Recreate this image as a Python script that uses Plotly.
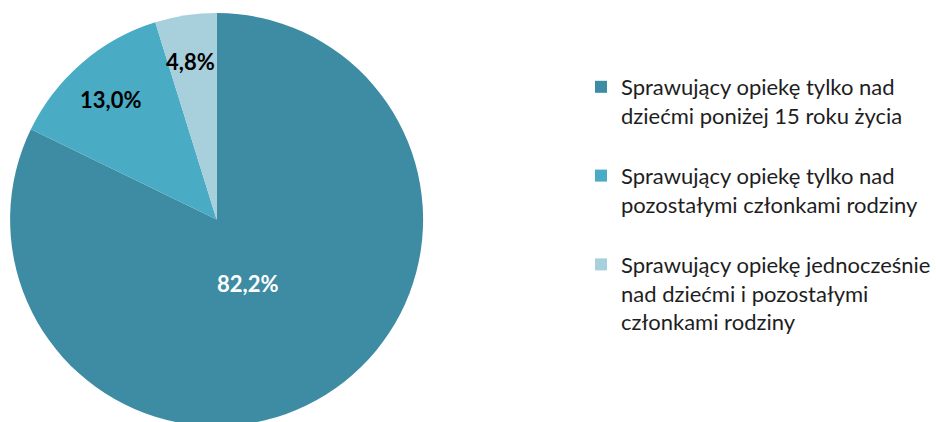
import plotly.graph_objects as go

# Shares of caregivers by type of care provided (%)
categories = [
    "Sprawujący opiekę tylko nad<br>dziećmi poniżej 15 roku życia",
    "Sprawujący opiekę tylko nad<br>pozostałymi członkami rodziny",
    "Sprawujący opiekę jednocześnie<br>nad dziećmi i pozostałymi<br>członkami rodziny",
]
values = [82.2, 13.0, 4.8]
colors = ["#3D8CA3", "#4AABC5", "#A8CFDC"]
label_colors = ["white", "black", "black"]

W, H = 936, 426
TOP = 13

fig = go.Figure()
fig.add_trace(go.Pie(
    labels=[c + "<br> " for c in categories[:-1]] + [categories[-1]],
    values=values,
    sort=False,
    direction="clockwise",
    rotation=0,
    marker=dict(colors=colors, line=dict(width=0)),
    textinfo="none",
    hoverinfo="label+percent",
    domain=dict(x=[2 / W, 434 / W], y=[0, 1]),
))

# value labels placed inside each slice
label_px = [(249, 283), (111, 100), (192, 61)]
for v, (px, py), col in zip(values, label_px, label_colors):
    fig.add_annotation(
        x=px / W, y=(H - py) / (H - TOP), xref="paper", yref="paper",
        xanchor="center", yanchor="middle",
        text="<b>" + f"{v:.1f}".replace(".", ",") + "%</b>",
        showarrow=False,
        font=dict(family="Lato", size=22, color=col),
    )

fig.update_layout(
    width=W, height=H,
    margin=dict(l=0, r=0, t=TOP, b=0),
    paper_bgcolor="white",
    plot_bgcolor="white",
    showlegend=True,
    legend=dict(
        x=585 / W, xanchor="left",
        y=(H - 66) / (H - TOP), yanchor="top",
        valign="top",
        font=dict(family="Lato", size=22, color="#1E1E1E"),
        bgcolor="rgba(0,0,0,0)",
    ),
)

fig.write_html("out.html", post_script="document.documentElement.style.overflow='hidden';document.body.style.overflow='hidden';")
